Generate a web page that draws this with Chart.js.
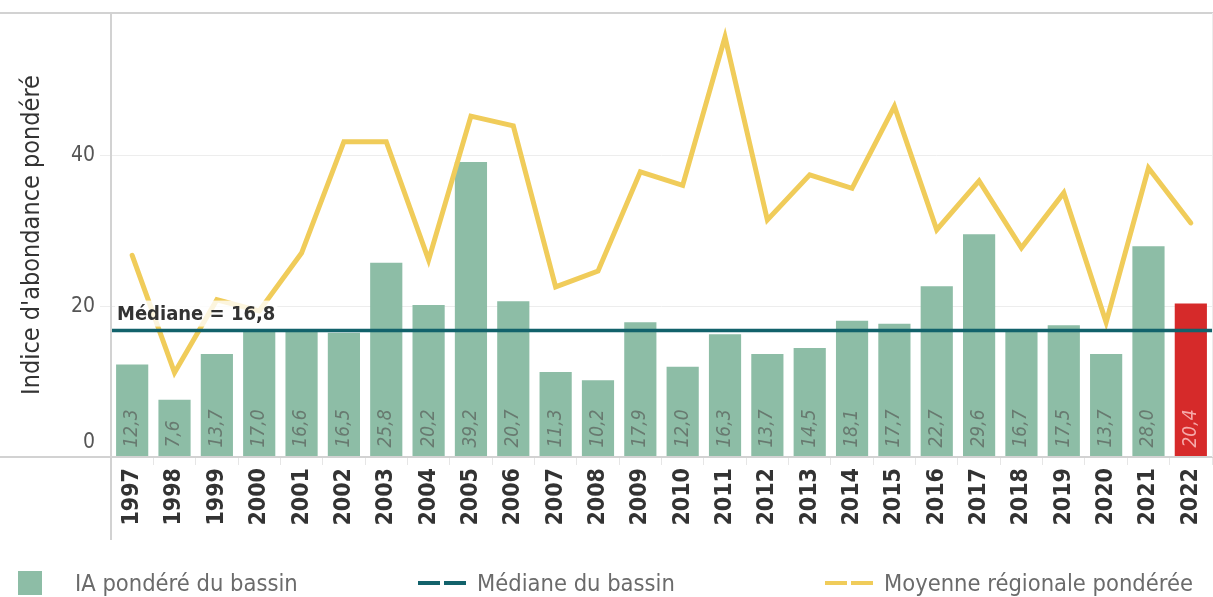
<!DOCTYPE html>
<html lang="fr">
<head>
<meta charset="utf-8">
<title>Indice d'abondance pondéré</title>
<script src="https://cdn.jsdelivr.net/npm/chart.js@4.4.1/dist/chart.umd.min.js"></script>
<style>
    html, body { margin: 0; padding: 0; background: #fff; }
    #wrap { position: relative; width: 1213px; height: 597px; overflow: hidden; }
    #chart { position: absolute; left: 0; top: 0; }
    #legend {
        position: absolute; left: 0; top: 564px; width: 1213px; height: 38px;
        font-family: "DejaVu Sans Condensed", "DejaVu Sans", sans-serif;
        font-size: 23.5px; color: #6b6b6b;
    }
    .item { position: absolute; top: 0; height: 38px; display: flex; align-items: center; white-space: nowrap; }
    .box { width: 24px; height: 24px; margin-right: 33px; }
    .dash { display: flex; width: 48px; margin-right: 11px; justify-content: space-between; }
    .dash span { display: block; width: 22px; height: 4px; }
</style>
</head>
<body>
<div id="wrap">
    <canvas id="chart" width="1213" height="597"></canvas>
    <div id="legend"></div>
</div>
<script>
// Données
const years = ['1997', '1998', '1999', '2000', '2001', '2002', '2003', '2004', '2005', '2006', '2007', '2008', '2009',
    '2010', '2011', '2012', '2013', '2014', '2015', '2016', '2017', '2018', '2019', '2020', '2021', '2022'];
const iaBassin = [12.3, 7.6, 13.7, 17.0, 16.6, 16.5, 25.8, 20.2, 39.2, 20.7, 11.3, 10.2, 17.9,
    12.0, 16.3, 13.7, 14.5, 18.1, 17.7, 22.7, 29.6, 16.7, 17.5, 13.7, 28.0, 20.4];
const moyenneRegionale = [26.8, 11.2, 20.9, 19.4, 27.1, 41.9, 41.9, 26.2, 45.3, 44.0, 22.6, 24.7, 37.9,
    36.1, 55.8, 31.5, 37.5, 35.7, 46.6, 30.2, 36.7, 27.8, 35.1, 17.9, 38.4, 31.1];
const medianeBassin = 16.8;
const currentYear = '2022';

const GREEN = '#8dbda6';
const RED = '#d62a2a';
const TEAL = '#12626b';
const YELLOW = '#f0cc5a';
const FONT = '"DejaVu Sans Condensed", "DejaVu Sans", sans-serif';

const fmt = v => v.toFixed(1).replace('.', ',');

// Cadre et axes dessinés à la main (style tableau)
const framePlugin = {
    id: 'frame',
    afterDraw(chart) {
        const { ctx, chartArea, scales } = chart;
        ctx.save();
        ctx.strokeStyle = '#d2d2d2';
        ctx.lineWidth = 2;
        ctx.beginPath();
        ctx.moveTo(0, chartArea.top);
        ctx.lineTo(chart.width, chartArea.top);
        ctx.moveTo(0, chartArea.bottom);
        ctx.lineTo(chart.width, chartArea.bottom);
        ctx.moveTo(chartArea.left, chartArea.top);
        ctx.lineTo(chartArea.left, scales.x.bottom);
        ctx.stroke();
        ctx.strokeStyle = '#ececec';
        ctx.lineWidth = 1;
        ctx.beginPath();
        ctx.moveTo(chartArea.right + 0.5, chartArea.top);
        ctx.lineTo(chartArea.right + 0.5, chartArea.bottom);
        ctx.stroke();

        // le "0" est remonté au-dessus de l'axe, comme dans l'original
        ctx.font = '21px ' + FONT;
        ctx.fillStyle = '#555';
        ctx.textAlign = 'right';
        ctx.textBaseline = 'middle';
        ctx.fillText('0', chartArea.left - 16, scales.y.getPixelForValue(0) - 14);
        ctx.restore();
    }
};

// Étiquettes dans les barres + libellé de la médiane
const labelsPlugin = {
    id: 'labels',
    afterDatasetsDraw(chart) {
        const { ctx, scales } = chart;
        const meta = chart.getDatasetMeta(0);
        ctx.save();
        ctx.font = 'italic 19px ' + FONT;
        ctx.textAlign = 'left';
        ctx.textBaseline = 'middle';
        meta.data.forEach((bar, i) => {
            ctx.save();
            ctx.translate(bar.x, bar.base - 9);
            ctx.rotate(-Math.PI / 2);
            ctx.fillStyle = years[i] === currentYear ? '#f5a9a9' : '#687a70';
            ctx.fillText(fmt(iaBassin[i]), 0, 0);
            ctx.restore();
        });

        const y = scales.y.getPixelForValue(medianeBassin);
        const text = 'Médiane = ' + fmt(medianeBassin);
        ctx.font = 'bold 20px ' + FONT;
        ctx.textBaseline = 'alphabetic';
        const w = ctx.measureText(text).width;
        const x = chart.chartArea.left + 6;
        ctx.fillStyle = 'rgba(255,255,255,0.8)';
        ctx.fillRect(x - 2, y - 30, w + 4, 26);
        ctx.fillStyle = '#333';
        ctx.fillText(text, x, y - 11);
        ctx.restore();
    }
};

const ctx = document.getElementById('chart').getContext('2d');
const chart = new Chart(ctx, {
    type: 'bar',
    data: {
        labels: years,
        datasets: [
            {
                label: 'IA pondéré du bassin',
                data: iaBassin,
                backgroundColor: years.map(y => y === currentYear ? RED : GREEN),
                grouped: false,
                barPercentage: 0.76,
                categoryPercentage: 1,
                order: 3
            },
            {
                type: 'line',
                label: 'Médiane du bassin',
                xAxisID: 'xm',
                data: [{ x: 0, y: medianeBassin }, { x: 1, y: medianeBassin }],
                borderColor: TEAL,
                backgroundColor: TEAL,
                borderWidth: 3.5,
                pointRadius: 0,
                order: 1
            },
            {
                type: 'line',
                label: 'Moyenne régionale pondérée',
                data: moyenneRegionale,
                borderColor: YELLOW,
                backgroundColor: YELLOW,
                borderWidth: 5,
                pointRadius: 0,
                borderCapStyle: 'round',
                order: 2
            }
        ]
    },
    options: {
        responsive: false,
        animation: false,
        layout: { padding: { top: 13, right: 1, bottom: 57, left: 0 } },
        plugins: { legend: { display: false }, tooltip: { enabled: false } },
        scales: {
            x: {
                offset: true,
                border: { display: false },
                grid: { offset: true, drawOnChartArea: false, drawTicks: true, tickLength: 8, color: '#e6e6e6' },
                ticks: {
                    autoSkip: false, minRotation: 90, maxRotation: 90, padding: 3,
                    color: '#333', font: { family: FONT, size: 23, weight: 'bold' }
                },
                afterFit: s => { s.height = 83; s.paddingLeft = 0; s.paddingRight = 0; }
            },
            xm: { type: 'linear', display: false, offset: false, min: 0, max: 1 },
            y: {
                min: 0, max: 59,
                border: { display: false },
                grid: { color: '#ededed', tickLength: 11 },
                ticks: {
                    stepSize: 20, includeBounds: false, padding: 5,
                    color: '#555', font: { family: FONT, size: 21 },
                    callback: v => v === 0 ? '' : v
                },
                title: {
                    display: true, text: "Indice d'abondance pondéré",
                    color: '#333', font: { family: FONT, size: 25 }, padding: { top: 17 }
                },
                afterFit: s => { s.width = 111; s.paddingTop = 0; s.paddingBottom = 0; }
            }
        }
    },
    plugins: [framePlugin, labelsPlugin]
});

// Légende HTML
const legendLefts = [18, 418, 825];
const legend = document.getElementById('legend');
chart.data.datasets.forEach((ds, i) => {
    const item = document.createElement('div');
    item.className = 'item';
    item.style.left = legendLefts[i] + 'px';
    let marker;
    if (ds.type === 'line') {
        marker = document.createElement('div');
        marker.className = 'dash';
        marker.innerHTML = `<span style="background:${ds.borderColor}"></span><span style="background:${ds.borderColor}"></span>`;
    } else {
        marker = document.createElement('div');
        marker.className = 'box';
        marker.style.background = GREEN;
    }
    item.appendChild(marker);
    item.appendChild(document.createTextNode(ds.label));
    legend.appendChild(item);
});
</script>
</body>
</html>
